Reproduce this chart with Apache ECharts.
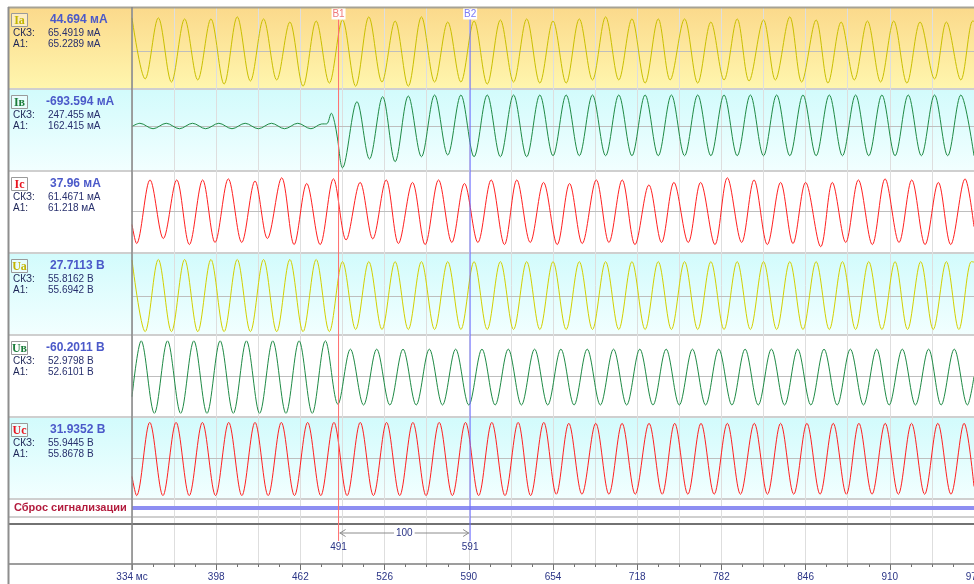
<!DOCTYPE html>
<html><head><meta charset="utf-8">
<script src="https://cdn.jsdelivr.net/npm/echarts@6/dist/echarts.min.js"></script>
<style>html,body{margin:0;padding:0;background:#fff}#c{width:974px;height:584px}</style>
</head><body><div id="c"></div>
<script>
// ---------- DATA ----------
const T0 = 334, T1 = 974;
const channelNames = ['Ia','Iв','Ic','Ua','Uв','Uc'];
const instValues = ['44.694 мА','-693.594 мА','37.96 мА','27.7113 В','-60.2011 В','31.9352 В'];
const rmsValues = ['65.4919 мА','247.455 мА','61.4671 мА','55.8162 В','52.9798 В','55.9445 В'];
const a1Values = ['65.2289 мА','162.415 мА','61.218 мА','55.6942 В','52.6101 В','55.8678 В'];
const cursorTimes = [491, 591];
const cursorNames = ['B1','B2'];
const signalName = 'Сброс сигнализации';
const signalData = [[334,1],[974,1]];

const iaData = [[334,96],[344,-81],[354,96],[364,-90],[374,93],[384,-84],[394,93],[404,-96],[414,99],[424,-87],[434,93],[444,-84],[454,84],[464,-102],[474,87],[484,-93],[494,90],[504,-102],[514,99],[524,-90],[534,87],[544,-102],[554,99],[564,-90],[574,84],[584,-90],[594,87],[604,-96],[614,90],[624,-90],[634,93],[644,-93],[654,87],[664,-93],[674,93],[684,-84],[694,99],[704,-84],[714,93],[724,-93],[734,93],[743,-84],[754,93],[764,-93],[774,84],[784,-84],[794,93],[803,-87],[814,90],[823,-84],[834,99],[843,-90],[854,90],[863,-93],[873,84],[883,-84],[893,87],[903,-90],[913,87],[923,-93],[933,84],[944,-81],[953,84],[964,-84],[973,87],[974,86]];

const ibData = [[334,-5],[340,30],[350,-30],[360,30],[370,-30],[380,30],[390,-30],[400,30],[410,-30],[420,30],[430,-30],[440,30],[450,-30],[460,30],[470,-30],[478,22],[482,24],[485.5,140],[488,40],[490,-120],[494,-460],[505,267],[514.5,-363],[524.5,322],[534,-393],[544,330],[554,-338],[564,341],[574,-319],[584,341],[594,-338],[604,341],[614,-338],[624,341],[634,-338],[644,341],[654,-327],[664,341],[674,-327],[684,341],[694,-327],[704,341],[714,-327],[724,341],[734,-327],[744,341],[754,-327],[764,341],[774,-327],[784,341],[794,-327],[804,341],[814,-327],[824,341],[834,-327],[844,341],[854,-327],[864,341],[874,-327],[884,341],[894,-327],[904,341],[914,-327],[924,341],[934,-327],[944,341],[954,-327],[964,341],[974,-327]];

const icData = [[334,-36],[337.5,-89],[347.7,89],[357.8,-75],[368,89],[377.6,-92],[387.7,89],[397.1,-86],[407.2,92],[417.4,-86],[427.5,86],[436.9,-75],[447.8,95],[457.2,-92],[466.8,79],[477,-92],[487.1,92],[496.7,-79],[507.4,82],[517,-76],[527.2,89],[536.5,-89],[547.2,82],[556.8,-92],[567,89],[577.1,-86],[586.7,79],[596.9,-86],[607,89],[617.1,-92],[626.5,89],[636.7,-86],[646.8,82],[657.2,-92],[666.6,79],[676.2,-89],[686.9,89],[696.5,-86],[706.6,89],[716.3,-92],[726.9,75],[736.5,-86],[745.9,82],[756.8,-86],[766.2,82],[777.1,-92],[786.5,95],[797.4,-86],[806.8,89],[816.9,-92],[827,82],[836.4,-89],[846,82],[857.5,-98],[866.3,82],[876.5,-86],[886.1,89],[896.7,-92],[906.4,92],[917,-86],[926.7,89],[936.8,-92],[946.9,82],[956.3,-92],[967.2,92],[974,-42]];

const uaData = [[334,83],[344,-82],[354,84],[364,-82],[374,84],[384,-82],[394,84],[404,-82],[414,84],[424,-82],[434,84],[444,-82],[454,84],[464,-82],[474,84],[484,-82],[494,79],[504,-77],[514,79],[524,-77],[534,79],[544,-77],[554,79],[564,-77],[574,79],[584,-77],[594,79],[604,-77],[614,79],[624,-77],[634,79],[644,-77],[654,79],[664,-77],[674,79],[684,-77],[694,79],[704,-77],[714,79],[724,-77],[734,79],[744,-77],[754,79],[764,-77],[774,79],[784,-77],[794,79],[804,-77],[814,79],[824,-77],[834,79],[844,-77],[854,79],[864,-77],[874,79],[884,-77],[894,79],[904,-77],[914,79],[923.5,-77],[933.5,79],[943,-77],[953,79],[962.5,-77],[972,79],[974,78]];

const ubData = [[334,-53],[341,95],[351,-97],[361,95],[371,-97],[381,95],[391,-97],[401,95],[411,-97],[421,95],[431,-97],[441,95],[451,-97],[461,95],[471,-97],[481,95],[490.5,-73],[500,73],[510,-75],[520,73],[530,-75],[540,73],[550,-75],[560,73],[570,-75],[580,73],[590,-75],[600,73],[610,-75],[620,73],[630,-75],[640,73],[650,-75],[660,73],[670,-75],[680,73],[690,-75],[700,73],[710,-75],[720,73],[730,-75],[740,73],[750,-75],[760,73],[770,-75],[780,73],[790,-75],[800,73],[810,-75],[820,73],[830,-75],[840,73],[850,-75],[860,73],[870,-75],[880,73],[890,-75],[900,73],[909.5,-75],[919.5,73],[929.5,-75],[939.5,73],[949,-75],[959,73],[969,-75],[974,0]];

const ucData = [[334,-40],[337.5,-82],[347.5,79],[357.5,-82],[367.5,79],[377.5,-82],[387.5,79],[397.5,-82],[407.5,79],[417.5,-82],[427.5,79],[437.5,-82],[447.5,79],[457.5,-82],[467.5,79],[477.5,-82],[487.5,79],[497.5,-82],[507.5,79],[517.5,-82],[527.5,79],[537.5,-82],[547.5,79],[557.5,-82],[567.5,79],[577.5,-82],[587.5,79],[597.5,-82],[607.5,79],[617.5,-82],[627.5,79],[637,-82],[647,79],[656.5,-79],[666,77],[676,-79],[686.5,77],[696.5,-79],[706.5,77],[716.5,-79],[727,77],[737,-79],[746.5,77],[756.5,-79],[766.5,77],[776.5,-79],[786.5,77],[796.5,-79],[807,77],[817,-79],[827,77],[837,-79],[847,77],[857,-79],[867,77],[877,-79],[886.5,77],[896.5,-79],[906.5,77],[916.5,-79],[926.5,77],[936.5,-79],[946.5,77],[956.5,-79],[966.5,77],[974,-62]];

const channelData = [iaData, ibData, icData, uaData, ubData, ucData];

// ---------- LAYOUT / STYLE ----------
const L = 132, TOP = 7, PH = 82;
const yRanges = [[-110.2,127.6],[-495,407],[-115.6,114],[-89.7,98.9],[-106.8,110.5],[-89.5,90.9]];
const lineColors = ['#c9bf00','#1f8a45','#ff2020','#d2d000','#1f8a45','#ff2020'];
const nameColors = ['#c2b400','#1b7d3a','#e8141e','#c2b400','#1b7d3a','#e8141e'];
const bgs = [['#fbd98b','#fff6ae'],['#d2fbfc','#f2ffff'],null,['#d2fbfc','#f2ffff'],null,['#d2fbfc','#f2ffff']];
const FONT = '"Liberation Sans", Arial, sans-serif';
const navy = '#2a3486';

const chart = echarts.init(document.getElementById('c'), null, {renderer:'canvas'});
const shift = d => d.map(p => [p[0]-T0, p[1]]);
const span = T1 - T0;
const G = (o) => Object.assign({outerBoundsMode:'none', containLabel:false}, o);

const grids = [G({left:L, right:0, top:TOP, height:564-TOP})];
const xAxes = [
  {gridIndex:0, type:'value', min:0, max:span, interval:64, position:'bottom',
   axisLine:{show:false}, splitLine:{show:false},
   axisTick:{show:true, length:6, lineStyle:{color:'#707070'}},
   minorTick:{show:true, splitNumber:4, length:3, lineStyle:{color:'#707070'}},
   axisLabel:{color:navy, fontSize:10, fontFamily:FONT, margin:8, showMaxLabel:true, showMinLabel:true, hideOverlap:false,
     formatter: v => v === 0 ? (T0 + ' мс') : String(v + T0)}},
  {gridIndex:0, type:'value', min:0, max:span, interval:32, position:'bottom',
   axisLine:{show:false}, axisTick:{show:false}, axisLabel:{show:false},
   splitLine:{show:true, lineStyle:{color:'#dedede', width:1}}}
];
const yAxes = [{gridIndex:0, type:'value', min:0, max:1, show:false}];
const series = [];
for (let i = 0; i < 6; i++) {
  grids.push(G({left:L, right:0, top:TOP + PH*i, height:PH}));
  xAxes.push({gridIndex:i+1, type:'value', min:0, max:span, show:true,
    axisLine:{show:true, onZero:true, lineStyle:{color:'#bebebe', width:1}},
    axisTick:{show:false}, axisLabel:{show:false}, splitLine:{show:false}});
  yAxes.push({gridIndex:i+1, type:'value', min:yRanges[i][0], max:yRanges[i][1], show:false, splitLine:{show:false}});
  series.push({type:'line', name:channelNames[i], xAxisIndex:i+2, yAxisIndex:i+1,
    data: shift(channelData[i]), showSymbol:false, symbol:'none', smooth:0.33,
    lineStyle:{color:lineColors[i], width:1}, z:3});
}
// signal row
grids.push(G({left:L, right:0, top:499, height:18}));
xAxes.push({gridIndex:7, type:'value', min:0, max:span, show:false});
yAxes.push({gridIndex:7, type:'value', min:0, max:2, show:false});
series.push({type:'line', xAxisIndex:8, yAxisIndex:7, data:shift(signalData), showSymbol:false, symbol:'none',
  lineStyle:{color:'#8e8ef2', width:4}, z:3});

chart.setOption({
  animation:false,
  backgroundColor:'#ffffff',
  grid: grids, xAxis: xAxes, yAxis: yAxes, series: series
});

// ---------- GRAPHICS ----------
const els = [];
for (let i = 0; i < 6; i++) {
  const top = TOP + PH*i;
  if (bgs[i]) {
    els.push({type:'rect', z:-10, shape:{x:8, y:top, width:966, height:PH},
      style:{fill:{type:'linear', x:0, y:0, x2:0, y2:1, colorStops:[{offset:0,color:bgs[i][0]},{offset:1,color:bgs[i][1]}]}}});
  }
  els.push({type:'rect', z:50, shape:{x:11.5, y:top+6.5, width:16, height:13},
    style:{fill:'rgba(255,255,255,0.45)', stroke:'#9a9a9a', lineWidth:1}});
  els.push({type:'text', z:51, x:19.5, y:top+13.5, style:{text:channelNames[i], fill:nameColors[i],
    font:'bold 12px "Liberation Serif", serif', align:'center', verticalAlign:'middle'}});
  const neg = instValues[i].charAt(0) === '-';
  els.push({type:'text', z:51, x:neg?46:50, y:top+13, style:{text:instValues[i], fill:'#4b59c9',
    font:'bold 12px '+FONT, verticalAlign:'middle'}});
  els.push({type:'text', z:51, x:13, y:top+26, style:{text:'СКЗ:', fill:'#1c2456', font:'10px '+FONT, verticalAlign:'middle'}});
  els.push({type:'text', z:51, x:48, y:top+26, style:{text:rmsValues[i], fill:'#28306e', font:'10px '+FONT, verticalAlign:'middle'}});
  els.push({type:'text', z:51, x:13, y:top+37.5, style:{text:'А1:', fill:'#1c2456', font:'10px '+FONT, verticalAlign:'middle'}});
  els.push({type:'text', z:51, x:48, y:top+37.5, style:{text:a1Values[i], fill:'#28306e', font:'10px '+FONT, verticalAlign:'middle'}});
}
[89,171,253,335,417,499,517].forEach(y => {
  els.push({type:'line', z:-5, shape:{x1:8, y1:y, x2:974, y2:y}, style:{stroke:'#cfcfcf', lineWidth:2}});
});
els.push({type:'line', z:20, shape:{x1:8, y1:7.5, x2:974, y2:7.5}, style:{stroke:'#a6a294', lineWidth:2}});
els.push({type:'line', z:20, shape:{x1:8, y1:524, x2:974, y2:524}, style:{stroke:'#727272', lineWidth:2}});
els.push({type:'line', z:20, shape:{x1:8, y1:564, x2:974, y2:564}, style:{stroke:'#7c7c7c', lineWidth:1.5}});
els.push({type:'line', z:20, shape:{x1:8.5, y1:7, x2:8.5, y2:584}, style:{stroke:'#8e8e8e', lineWidth:2}});
els.push({type:'line', z:20, shape:{x1:132, y1:7, x2:132, y2:570}, style:{stroke:'#858585', lineWidth:1.5}});
els.push({type:'text', z:51, x:14, y:508, style:{text:signalName, fill:'#b31b3d', font:'bold 11px '+FONT, verticalAlign:'middle'}});

const cx = cursorTimes.map(t => chart.convertToPixel({xAxisIndex:0}, t - T0));
const curColors = ['#ff6f6f','#6a6aff'];
const curText = ['#f07a7a','#7c7cf5'];
cx.forEach((x, k) => {
  els.push({type:'line', z:40, shape:{x1:x, y1:8, x2:x, y2:541}, style:{stroke:curColors[k], lineWidth:1}});
  els.push({type:'rect', z:41, shape:{x:x-7, y:8.5, width:14, height:11}, style:{fill:'#ffffff'}});
  els.push({type:'text', z:42, x:x, y:14.5, style:{text:cursorNames[k], fill:curText[k], font:'10px '+FONT, align:'center', verticalAlign:'middle'}});
  els.push({type:'text', z:42, x:x, y:547.5, style:{text:String(cursorTimes[k]), fill:navy, font:'10px '+FONT, align:'center', verticalAlign:'middle'}});
});
const ay = 533, x1 = cx[0], x2 = cx[1];
els.push({type:'line', z:40, shape:{x1:x1+1, y1:ay, x2:x2-1, y2:ay}, style:{stroke:'#8c8c8c', lineWidth:1}});
els.push({type:'polyline', z:40, shape:{points:[[x1+7,ay-3.5],[x1+1.5,ay],[x1+7,ay+3.5]]}, style:{stroke:'#8c8c8c', lineWidth:1, fill:null}});
els.push({type:'polyline', z:40, shape:{points:[[x2-7,ay-3.5],[x2-1.5,ay],[x2-7,ay+3.5]]}, style:{stroke:'#8c8c8c', lineWidth:1, fill:null}});
els.push({type:'text', z:42, x:(x1+x2)/2, y:ay, style:{text:String(cursorTimes[1]-cursorTimes[0]), fill:navy,
  font:'10px '+FONT, align:'center', verticalAlign:'middle', backgroundColor:'#ffffff', padding:[0,2]}});

chart.setOption({graphic:{elements:els}});
</script></body></html>
